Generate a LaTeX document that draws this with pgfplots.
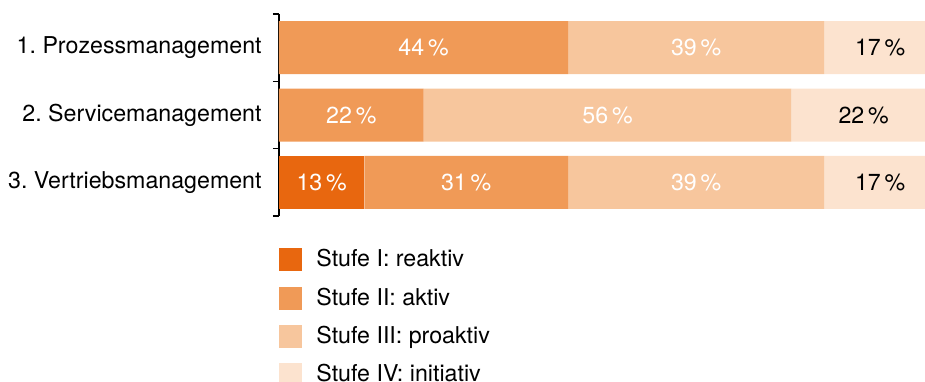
\documentclass[border=0pt]{standalone}
\usepackage{fontspec}
\setmainfont{TeX Gyre Heros}
\usepackage{pgfplots}
\pgfplotsset{compat=1.18}
\definecolor{s1}{HTML}{E8670F}
\definecolor{s2}{HTML}{F09A57}
\definecolor{s3}{HTML}{F7C69D}
\definecolor{s4}{HTML}{FCE3CF}
\begin{document}
\frenchspacing
\fontsize{11.6}{13.9}\selectfont
\begin{tikzpicture}
\begin{axis}[
  name=ax, at={(0,0)}, anchor=south west,
  scale only axis, width=328.5pt, height=101pt,
  xbar stacked, bar width=26.5pt,
  xmin=0, xmax=100, ymin=-0.5, ymax=2.5, y dir=reverse,
  hide x axis, axis y line*=left,
  ytick={0,1,2},
  yticklabels={1. Prozessmanagement, 2. Servicemanagement, 3. Vertriebsmanagement},
  minor ytick={-0.5,0.5,1.5,2.5},
  tick align=outside, major tick length=0pt, minor tick length=3pt,
  tick style={black, line width=0.75pt},
  axis line style={black, line width=0.75pt},
  yticklabel style={anchor=east, inner sep=0pt},
  yticklabel shift=8.5pt,
  /pgf/number format/assume math mode=true,
  point meta=explicit,
  nodes near coords={\pgfmathfloatifflags{\pgfplotspointmeta}{0}{}{\pgfmathprintnumber{\pgfplotspointmeta}\,\%}},
  every node near coord/.append style={anchor=center, inner sep=0pt},
  legend style={at={(0,0)}, anchor=north west, yshift=-16pt, draw=none, fill=none, inner sep=0pt, row sep=7.65pt, nodes={inner sep=0pt}, /tikz/every odd column/.append style={column sep=7pt}},
  legend image code/.code={\fill[#1] (0pt,-5.75pt) rectangle (11.5pt,5.75pt);},
  legend cell align=left,
]
\addplot[fill=s1, draw=none, every node near coord/.append style={text=white}]
  coordinates {(0,0) [0] (0,1) [0] (13,2) [13]};
\addplot[fill=s2, draw=none, every node near coord/.append style={text=white}]
  coordinates {(44,0) [44] (22,1) [22] (31,2) [31]};
\addplot[fill=s3, draw=none, every node near coord/.append style={text=white}]
  coordinates {(39,0) [39] (56,1) [56] (39,2) [39]};
\addplot[fill=s4, draw=none, every node near coord/.append style={text=black}]
  coordinates {(17,0) [17] (22,1) [22] (17,2) [17]};
\legend{Stufe I: reaktiv, Stufe II: aktiv, Stufe III: proaktiv, Stufe IV: initiativ}
\end{axis}
\pgfresetboundingbox
\path[use as bounding box] (-139.5pt,-82.5pt) rectangle (323pt,108pt);
\end{tikzpicture}
\end{document}
